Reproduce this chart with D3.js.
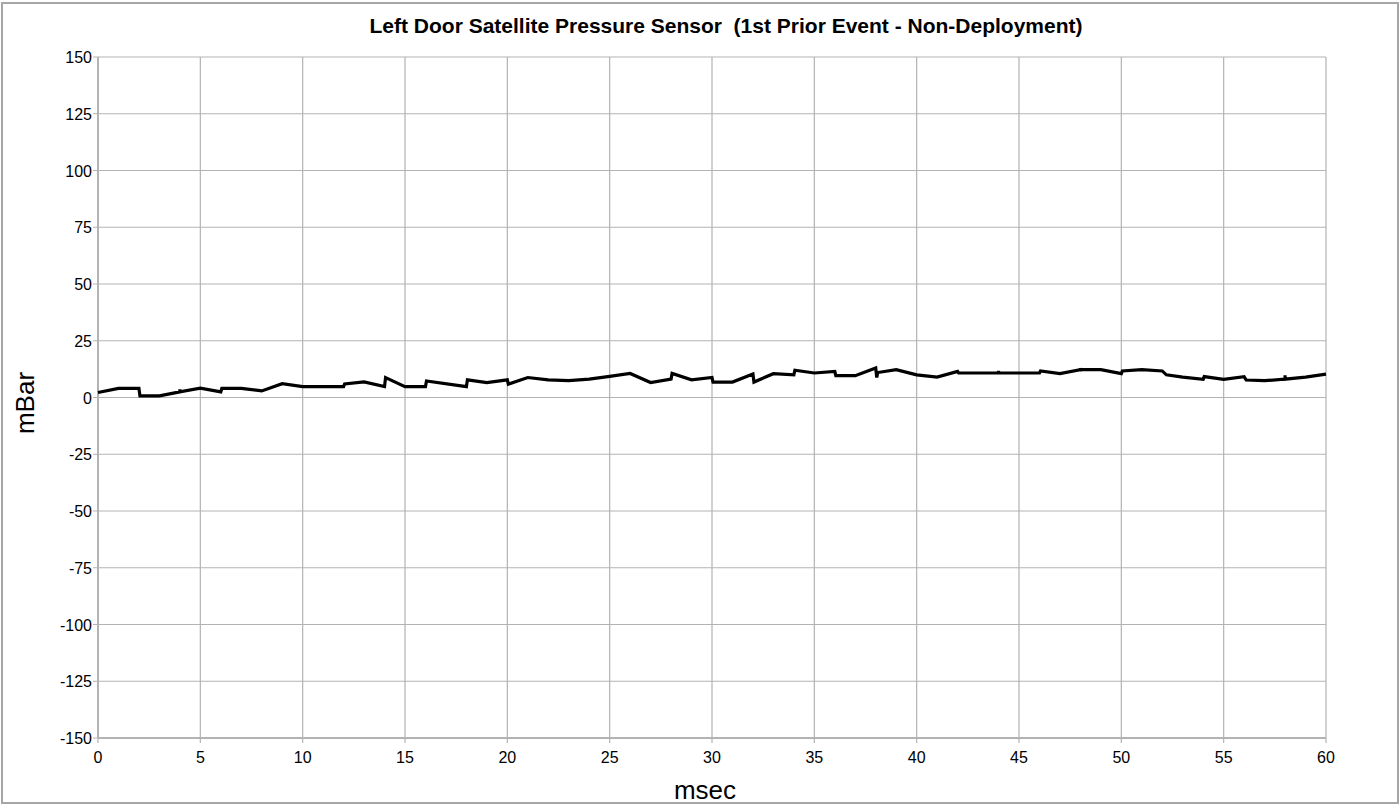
<!DOCTYPE html>
<html>
<head>
<meta charset="utf-8">
<script src="https://cdn.jsdelivr.net/npm/d3@7.9.0/dist/d3.min.js"></script>
<style>
  body { margin: 0; background: #fff; }
  svg { display: block; font-family: "Liberation Sans", Arial, sans-serif; }
</style>
</head>
<body>
<svg id="chart" width="1400" height="805"></svg>
<script>
// Trace (msec, mBar); repeated times are step jumps / small spikes
const msec = [0, 1, 2, 2.05, 3, 4, 4, 4, 5, 6, 6.05, 7, 8, 9, 10, 11, 12, 12.05, 13, 14, 14.05, 15, 16, 16.05, 18, 18.05, 19, 20, 20.05,
  21, 22, 23, 24, 25, 26, 27, 28, 28.05, 29, 30, 30.05, 31, 32, 32.05, 33, 34, 34.05, 35, 36, 36.05, 37, 38, 38.05, 38.1,
  39, 40, 41, 42, 42.05, 43, 44, 44, 44, 45, 46, 46.05, 47, 48, 48, 48, 49, 50, 50.05, 51, 52, 52.2, 53, 54, 54.05, 55,
  56, 56.1, 57, 58, 58, 58, 59, 60];
const mBar = [2.2, 4.0, 4.0, 0.7, 0.7, 2.5, 3.6, 2.5, 4.1, 2.5, 4.0, 4.0, 2.9, 6.1, 4.8, 4.8, 4.8, 6.0, 6.9, 4.8, 8.8, 4.8, 4.8, 7.3, 4.8, 7.8, 6.6, 7.8, 5.9,
  8.8, 7.8, 7.4, 8.1, 9.3, 10.6, 6.6, 8.1, 10.6, 7.8, 8.8, 6.8, 6.8, 10.4, 6.8, 10.5, 10.0, 12.0, 10.8, 11.5, 9.6, 9.6, 13.0, 8.8, 11.0,
  12.3, 10.0, 9.0, 11.5, 10.8, 10.8, 10.8, 11.8, 10.8, 10.8, 10.8, 11.7, 10.5, 12.3, 11.4, 12.3, 12.3, 10.5, 11.7, 12.3, 11.7, 10.0, 9.0, 8.0, 9.2, 8.0,
  9.2, 7.7, 7.4, 8.1, 9.8, 8.1, 9.0, 10.3];

const xTicks = d3.range(0, 61, 5);
const yTicks = d3.range(-150, 151, 25);

const title = 'Left Door Satellite Pressure Sensor  (1st Prior Event - Non-Deployment)';
const xTitle = 'msec';
const yTitle = 'mBar';

const svg = d3.select('#chart');
const W = 1400, H = 805;
const margin = { left: 98, right: 74, top: 57, bottom: 67 };

const x = d3.scaleLinear().domain([0, 60]).range([margin.left, W - margin.right]);
const y = d3.scaleLinear().domain([-150, 150]).range([H - margin.bottom, margin.top]);

const grid = '#b3b3b3';

// outer frame
svg.append('rect')
  .attr('x', 2).attr('y', 3).attr('width', W - 4).attr('height', H - 5)
  .attr('fill', 'none').attr('stroke', '#a6a6a6').attr('stroke-width', 2);

// gridlines
svg.append('g').selectAll('line').data(xTicks).join('line')
  .attr('x1', d => x(d)).attr('x2', d => x(d))
  .attr('y1', y(150)).attr('y2', y(-150) + 5)
  .attr('stroke', grid).attr('stroke-width', 1.2);

svg.append('g').selectAll('line').data(yTicks).join('line')
  .attr('x1', x(0) - 5).attr('x2', x(60))
  .attr('y1', d => y(d)).attr('y2', d => y(d))
  .attr('stroke', grid).attr('stroke-width', 1.2);

// axes frame lines
svg.append('line').attr('x1', x(0)).attr('x2', x(0)).attr('y1', y(150)).attr('y2', y(-150))
  .attr('stroke', grid).attr('stroke-width', 2);
svg.append('line').attr('x1', x(0)).attr('x2', x(60)).attr('y1', y(-150)).attr('y2', y(-150))
  .attr('stroke', grid).attr('stroke-width', 2);

// tick labels
svg.append('g').selectAll('text').data(yTicks).join('text')
  .attr('x', x(0) - 6).attr('y', d => y(d) + 6)
  .attr('text-anchor', 'end').attr('font-size', 16).attr('fill', '#000')
  .text(d => d);

svg.append('g').selectAll('text').data(xTicks).join('text')
  .attr('x', d => x(d)).attr('y', y(-150) + 25)
  .attr('text-anchor', 'middle').attr('font-size', 16).attr('fill', '#000')
  .text(d => d);

// titles
svg.append('text')
  .attr('x', 726).attr('y', 33)
  .attr('text-anchor', 'middle').attr('font-size', 21).attr('font-weight', 'bold')
  .style('white-space', 'pre')
  .text(title);

svg.append('text')
  .attr('x', 705).attr('y', 799)
  .attr('text-anchor', 'middle').attr('font-size', 26)
  .text(xTitle);

svg.append('text')
  .attr('transform', `translate(34,403) rotate(-90)`)
  .attr('text-anchor', 'middle').attr('font-size', 26)
  .text(yTitle);

// data line
const pts = msec.map((t, i) => [t, mBar[i]]);
svg.append('path')
  .datum(pts)
  .attr('fill', 'none')
  .attr('stroke', '#000')
  .attr('stroke-width', 3.2)
  .attr('stroke-linejoin', 'miter')
  .attr('d', d3.line().x(d => x(d[0])).y(d => y(d[1])));
</script>
</body>
</html>
